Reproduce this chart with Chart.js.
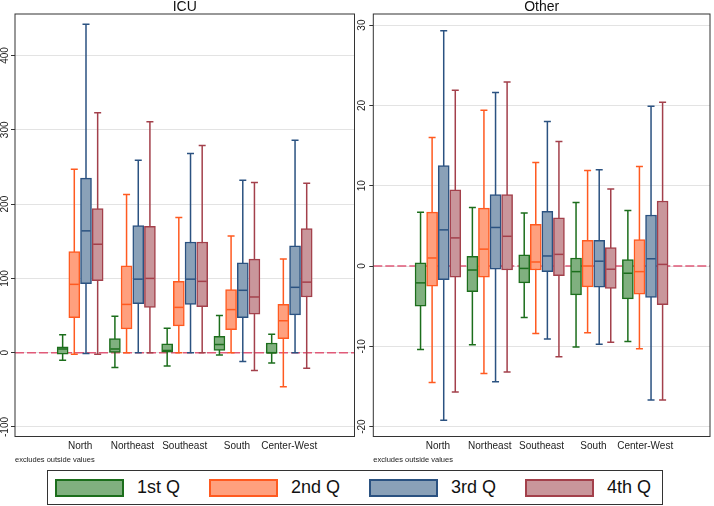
<!DOCTYPE html>
<html>
<head>
<meta charset="utf-8">
<script src="https://cdn.jsdelivr.net/npm/chart.js@4.4.1/dist/chart.umd.min.js"></script>
<style>
body { margin: 0; background: #fff; font-family: 'Liberation Sans', Arial, sans-serif; }
#wrap { position: relative; width: 714px; height: 506px; }
canvas { position: absolute; top: 0; }
#icuChart { left: 0; }
#otherChart { left: 357px; }
#legend {
  position: absolute; left: 47px; top: 470px; width: 616px; height: 35px;
  border: 1.5px solid #333; box-sizing: border-box;
  display: flex; align-items: center; padding-left: 7px; white-space: nowrap;
}
#legend .sw { flex: 0 0 69px; height: 18px; box-sizing: border-box; border: 2px solid; margin-right: 13px; }
#legend .lab { flex: 0 0 auto; font-size: 18px; color: #111; margin-right: 29px; }
#legend .lab:last-child { margin-right: 0; }
</style>
</head>
<body>
<div id="wrap">
  <canvas id="icuChart" width="357" height="466"></canvas>
  <canvas id="otherChart" width="357" height="466"></canvas>
  <div id="legend"></div>
</div>
<script>
const regions = ['North', 'Northeast', 'Southeast', 'South', 'Center-West'];
const quarters = ['1st Q', '2nd Q', '3rd Q', '4th Q'];

// each row: [lower whisker, Q1, median, Q3, upper whisker], one row per region
const icuQ1 = [[-10, -2, 5, 8, 24], [-20, 0.5, 5, 19, 49], [-18, 0, 3, 12, 33], [-3, 3, 11, 22, 50], [-14, -1, 0, 13, 25]];
const icuQ2 = [[-2, 47, 92, 136, 247], [0, 32, 65, 117, 213], [0, 36, 61, 96, 182], [0, 31, 58, 85, 157], [-46, 19, 43, 65, 126]];
const icuQ3 = [[-1, 93, 164, 235, 442], [0, 66, 99, 171, 259], [0, 65, 99, 149, 268], [-12, 47, 84, 121, 232], [0, 51, 88, 144, 286]];
const icuQ4 = [[-2, 97, 146, 194, 323], [0, 61, 100, 170, 311], [0, 62, 96, 149, 279], [-24, 52, 75, 126, 229], [-21, 75, 95, 167, 228]];

const otherQ1 = [[-10.4, -5.0, -2.1, 0.4, 6.7], [-9.8, -3.2, -0.5, 1.2, 7.3], [-6.4, -2.1, -0.3, 1.4, 6.6], [-10.1, -3.6, -0.7, 1.0, 7.9], [-9.4, -4.1, -0.9, 0.8, 6.9]];
const otherQ2 = [[-14.5, -2.5, 1.0, 6.7, 16.0], [-13.4, -1.4, 2.1, 7.2, 19.4], [-8.4, -0.5, 0.5, 5.2, 12.9], [-8.3, -2.6, 0, 3.2, 11.9], [-10.3, -3.5, -0.7, 3.3, 12.4]];
const otherQ3 = [[-19.2, -1.7, 4.5, 12.5, 29.3], [-14.4, -0.4, 4.8, 8.9, 21.6], [-9.1, -0.7, 1.25, 6.8, 18.0], [-9.75, -2.65, 0.6, 3.2, 12.0], [-16.7, -3.9, 0.9, 6.35, 19.9]];
const otherQ4 = [[-15.7, -1.4, 3.5, 9.5, 21.9], [-13.2, -0.5, 3.7, 8.9, 22.9], [-11.3, -1.2, 1.45, 6.0, 15.5], [-9.5, -2.8, -0.4, 2.3, 9.6], [-16.7, -4.8, 0.2, 8.1, 20.4]];

const icuTicks = [-100, 0, 100, 200, 300, 400];
const otherTicks = [-20, -10, 0, 10, 20, 30];

const fills = ['#80b07f', '#ffa07e', '#8aa1b8', '#c9969b'];
const borders = ['#1c6e1c', '#ff5a20', '#2b5281', '#a3404b'];
const offsets = [-0.335, -0.112, 0.112, 0.335];

function makeDatasets(series) {
  return series.map((stats, q) => ({
    label: quarters[q],
    data: stats.map((s, i) => ({x: i + 1 + offsets[q], y: [s[1], s[3]]})),
    stats: stats,
    backgroundColor: fills[q],
    borderColor: borders[q],
    borderWidth: 1.5,
    borderSkipped: false,
    grouped: false,
    barThickness: 11,
    maxBarThickness: 11
  }));
}

const boxPlugin = {
  id: 'boxes',
  beforeDatasetsDraw(chart) {
    const {ctx, chartArea: a, scales: {y}} = chart;
    ctx.save();
    // dashed zero line
    const y0 = y.getPixelForValue(0);
    ctx.strokeStyle = '#e05a78';
    ctx.lineWidth = 1.5;
    ctx.setLineDash([9, 3]);
    ctx.beginPath(); ctx.moveTo(a.left, y0); ctx.lineTo(a.right, y0); ctx.stroke();
    ctx.setLineDash([]);
    // whiskers
    chart.data.datasets.forEach((ds, di) => {
      chart.getDatasetMeta(di).data.forEach((bar, j) => {
        const s = ds.stats[j];
        const lo = y.getPixelForValue(s[0]), hi = y.getPixelForValue(s[4]);
        ctx.strokeStyle = ds.borderColor;
        ctx.lineWidth = 1.5;
        ctx.beginPath();
        ctx.moveTo(bar.x, lo); ctx.lineTo(bar.x, hi);
        ctx.moveTo(bar.x - 3.5, lo); ctx.lineTo(bar.x + 3.5, lo);
        ctx.moveTo(bar.x - 3.5, hi); ctx.lineTo(bar.x + 3.5, hi);
        ctx.stroke();
      });
    });
    ctx.restore();
  },
  afterDatasetsDraw(chart) {
    const {ctx, scales: {y}} = chart;
    ctx.save();
    chart.data.datasets.forEach((ds, di) => {
      chart.getDatasetMeta(di).data.forEach((bar, j) => {
        const m = y.getPixelForValue(ds.stats[j][2]);
        ctx.strokeStyle = ds.borderColor;
        ctx.lineWidth = 1.5;
        ctx.beginPath();
        ctx.moveTo(bar.x - bar.width / 2 + 1, m); ctx.lineTo(bar.x + bar.width / 2 - 1, m);
        ctx.stroke();
      });
    });
    ctx.restore();
  },
  afterDraw(chart, args, opts) {
    const {ctx, chartArea: a, scales: {y}} = chart;
    ctx.save();
    ctx.strokeStyle = '#333';
    ctx.lineWidth = 1;
    ctx.strokeRect(a.left, a.top, a.right - a.left, a.bottom - a.top);
    // rotated y tick labels
    ctx.fillStyle = '#222';
    ctx.font = '10px "Liberation Sans", Arial, sans-serif';
    ctx.textAlign = 'center';
    ctx.textBaseline = 'middle';
    y.ticks.forEach(t => {
      ctx.save();
      ctx.translate(opts.labelX, y.getPixelForValue(t.value));
      ctx.rotate(-Math.PI / 2);
      ctx.fillText(String(t.value), 0, 0);
      ctx.restore();
    });
    // panel title
    ctx.font = '14px "Liberation Sans", Arial, sans-serif';
    ctx.fillStyle = '#111';
    ctx.fillText(opts.title, (a.left + a.right) / 2, 7);
    ctx.restore();
  }
};

function makeChart(id, series, ticks, yMin, yMax, title, leftW, rightPad) {
  return new Chart(document.getElementById(id), {
    type: 'bar',
    data: {datasets: makeDatasets(series)},
    options: {
      responsive: false,
      animation: false,
      layout: {padding: {top: 14, left: 0, right: rightPad, bottom: 0}},
      plugins: {
        legend: {display: false},
        tooltip: {enabled: false},
        boxes: {title: title, labelX: 5}
      },
      scales: {
        x: {
          type: 'linear',
          min: 0.403,
          max: 5.6,
          afterBuildTicks: s => { s.ticks = regions.map((r, i) => ({value: i + 1})); },
          afterFit: s => { s.height = 29.5; },
          ticks: {
            autoSkip: false, maxRotation: 0, padding: 4,
            color: '#222', font: {size: 10, family: "'Liberation Sans', Arial, sans-serif"},
            callback: (v, i) => regions[i]
          },
          grid: {display: false, drawTicks: false},
          border: {display: false},
          title: {
            display: true, text: 'excludes outside values', align: 'start',
            color: '#222', font: {size: 7.5, family: "'Liberation Sans', Arial, sans-serif"},
            padding: {top: 0, bottom: 2}
          }
        },
        y: {
          min: yMin,
          max: yMax,
          afterBuildTicks: s => { s.ticks = ticks.map(v => ({value: v})); },
          afterFit: s => { s.width = leftW; },
          ticks: {display: false},
          grid: {color: '#e3e3e3', lineWidth: 1, tickLength: 4, tickColor: '#333', drawTicks: true},
          border: {display: false}
        }
      }
    },
    plugins: [boxPlugin]
  });
}

makeChart('icuChart', [icuQ1, icuQ2, icuQ3, icuQ4], icuTicks, -112.8, 455.9, 'ICU', 15, 2.5);
makeChart('otherChart', [otherQ1, otherQ2, otherQ3, otherQ4], otherTicks, -21.23, 31.38, 'Other', 16.3, 4);

const legend = document.getElementById('legend');
quarters.forEach((q, i) => {
  const sw = document.createElement('span');
  sw.className = 'sw';
  sw.style.background = fills[i];
  sw.style.borderColor = borders[i];
  const lab = document.createElement('span');
  lab.className = 'lab';
  lab.textContent = q;
  legend.appendChild(sw);
  legend.appendChild(lab);
});
</script>
</body>
</html>
